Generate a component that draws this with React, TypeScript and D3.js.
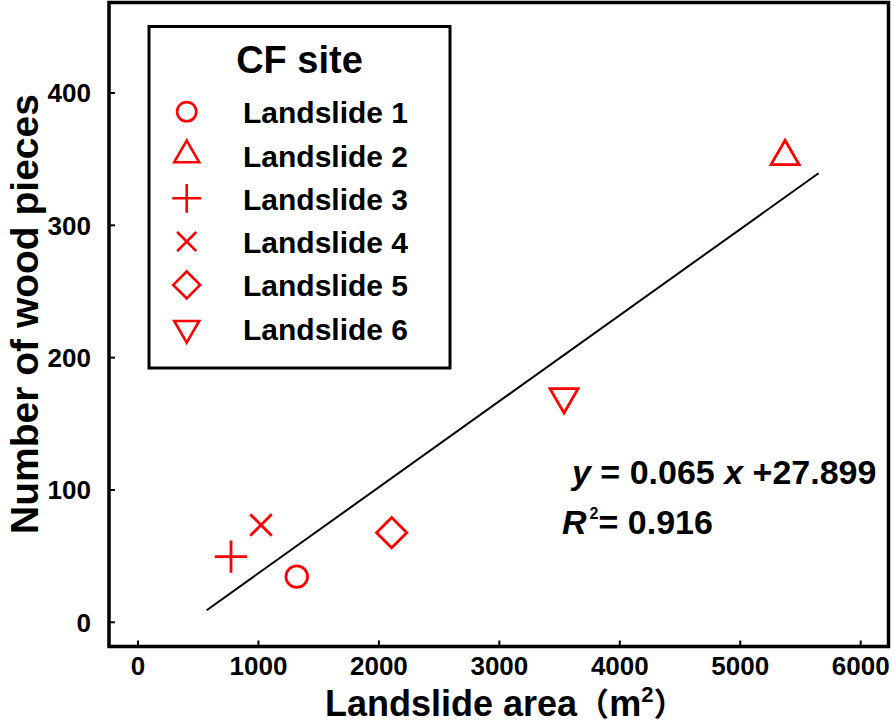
import React from "react";
import * as d3 from "d3";

const seriesNames = ["Landslide 1", "Landslide 2", "Landslide 3", "Landslide 4", "Landslide 5", "Landslide 6"];
const seriesShapes = ["circle", "triangle", "plus", "times", "diamond", "triangleDown"];
const areaValues = [1318, 5372, 772, 1021, 2106, 3537];
const woodValues = [34.5, 352, 49.6, 73.5, 67.7, 170.4];
const xTicks = [0, 1000, 2000, 3000, 4000, 5000, 6000];
const yTicks = [0, 100, 200, 300, 400];
const fitSlope = 0.065;
const fitIntercept = -27.899;
const fitRange = [570, 5650];
const legendTitle = "CF site";

const W = 894;
const H = 725;
const frame = { left: 109, right: 888.5, top: 2.5, bottom: 646.5 };
const FONT = "'Liberation Sans', Arial, Helvetica, sans-serif";
const CJK = "'Noto Sans CJK JP', 'Noto Sans CJK SC', sans-serif";
const RED = "#ff0000";

function symbolPath(shape: string, s: number): string {
  const p = d3.path();
  if (shape === "circle") {
    p.moveTo(s, 0);
    p.arc(0, 0, s, 0, Math.PI * 2);
  } else if (shape === "triangle" || shape === "triangleDown") {
    const hw = s * 1.3;
    const h = hw * Math.sqrt(3);
    const sign = shape === "triangle" ? 1 : -1;
    p.moveTo(0, (-2 * h / 3) * sign);
    p.lineTo(hw, (h / 3) * sign);
    p.lineTo(-hw, (h / 3) * sign);
    p.closePath();
  } else if (shape === "plus") {
    const a = s * 1.5;
    p.moveTo(-a, 0);
    p.lineTo(a, 0);
    p.moveTo(0, -a);
    p.lineTo(0, a);
  } else if (shape === "times") {
    const a = s * 1.0;
    p.moveTo(-a, -a);
    p.lineTo(a, a);
    p.moveTo(-a, a);
    p.lineTo(a, -a);
  } else if (shape === "diamond") {
    const a = s * 1.4;
    p.moveTo(0, -a);
    p.lineTo(a, 0);
    p.lineTo(0, a);
    p.lineTo(-a, 0);
    p.closePath();
  }
  return p.toString();
}

export default function App() {
  const x = d3.scaleLinear().domain([0, 6000]).range([138, 860.7]);
  const y = d3.scaleLinear().domain([0, 400]).range([622.3, 93]);
  const fitLine = d3
    .line<number>()
    .x((v) => x(v))
    .y((v) => y(fitSlope * v + fitIntercept));

  const legend = { x: 149, y: 26.5, w: 301, h: 341.5 };
  const rowY0 = 111.7;
  const rowStep = 43.3;

  return (
    <svg
      width={W}
      height={H}
      viewBox={`0 0 ${W} ${H}`}
      style={{ position: "absolute", left: 0, top: 0, background: "#fff" }}
      fontFamily={FONT}
      fontWeight="bold"
    >
      <rect x={0} y={0} width={W} height={H} fill="#fff" />
      {/* fit line */}
      <path d={fitLine(fitRange) || ""} stroke="#000" strokeWidth={2} fill="none" />
      {/* points */}
      {areaValues.map((a, i) => (
        <path
          key={i}
          transform={`translate(${x(a)},${y(woodValues[i])})`}
          d={symbolPath(seriesShapes[i], 10.8)}
          fill="none"
          stroke={RED}
          strokeWidth={2.8}
        />
      ))}
      {/* frame */}
      <rect
        x={frame.left}
        y={frame.top}
        width={frame.right - frame.left}
        height={frame.bottom - frame.top}
        fill="none"
        stroke="#000"
        strokeWidth={3.5}
      />
      {/* x ticks */}
      {xTicks.map((t) => (
        <g key={t}>
          <line x1={x(t)} x2={x(t)} y1={frame.bottom} y2={frame.bottom - 6} stroke="#000" strokeWidth={2} />
          <text x={x(t)} y={675} textAnchor="middle" fontSize={26}>
            {t}
          </text>
        </g>
      ))}
      {/* y ticks */}
      {yTicks.map((t) => (
        <g key={t}>
          <line x1={frame.left} x2={frame.left + 6} y1={y(t)} y2={y(t)} stroke="#000" strokeWidth={2} />
          <text x={91} y={y(t)} dy="0.36em" textAnchor="end" fontSize={26}>
            {t}
          </text>
        </g>
      ))}
      {/* axis titles */}
      <text x={325} y={716} textAnchor="start" fontSize={36}>
        Landslide area
        <tspan fontFamily={CJK} fontSize={32}>（</tspan>
        <tspan>m</tspan>
        <tspan dy={-14} fontSize={22}>2</tspan>
        <tspan dy={14} fontFamily={CJK} fontSize={32}>）</tspan>
      </text>
      <text transform={`translate(38,314) rotate(-90)`} textAnchor="middle" fontSize={39}>
        Number of wood pieces
      </text>
      {/* legend */}
      <rect x={legend.x} y={legend.y} width={legend.w} height={legend.h} fill="#fff" stroke="#000" strokeWidth={3} />
      <text x={legend.x + legend.w / 2} y={73.3} textAnchor="middle" fontSize={38}>
        {legendTitle}
      </text>
      {seriesNames.map((name, i) => (
        <g key={name}>
          <path
            transform={`translate(186.7,${rowY0 + i * rowStep})`}
            d={symbolPath(seriesShapes[i], 9.6)}
            fill="none"
            stroke={RED}
            strokeWidth={2.6}
          />
          <text x={243} y={rowY0 + i * rowStep + 11.5} fontSize={30}>
            {name}
          </text>
        </g>
      ))}
      {/* equation */}
      <text x={572} y={484} fontSize={34}>
        <tspan fontStyle="italic">y</tspan>
        <tspan> = 0.065 </tspan>
        <tspan fontStyle="italic">x</tspan>
        <tspan> +27.899</tspan>
      </text>
      <text x={562} y={534} fontSize={34}>
        <tspan fontStyle="italic">R</tspan>
        <tspan dx={3} dy={-15} fontSize={16}>2</tspan>
        <tspan dy={15}>= 0.916</tspan>
      </text>
    </svg>
  );
}
